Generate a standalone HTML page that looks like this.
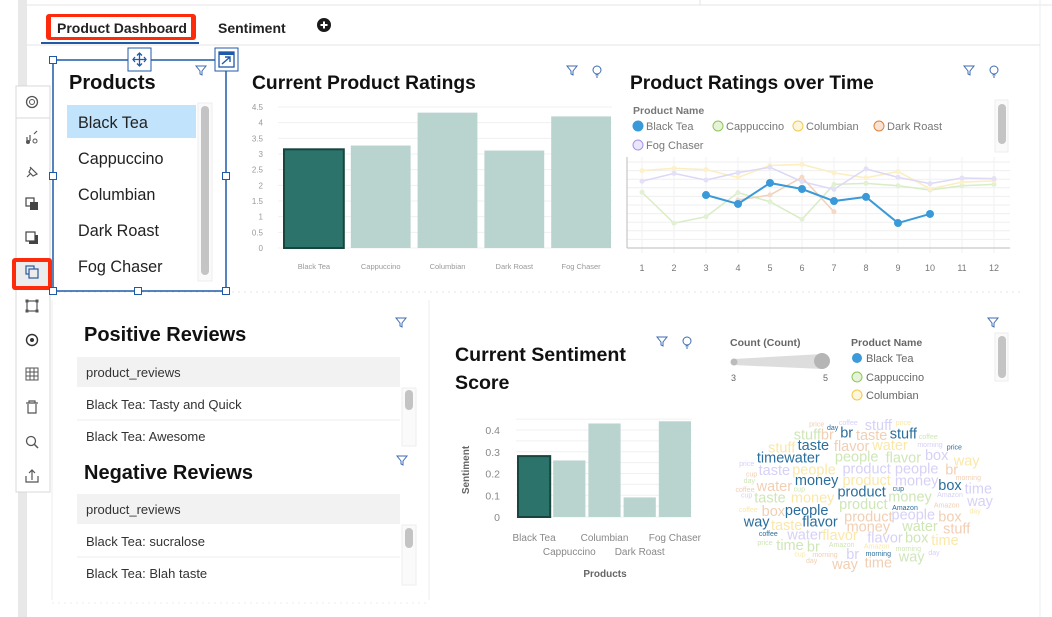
<!DOCTYPE html>
<html><head><meta charset="utf-8">
<style>
body{margin:0;width:1052px;height:617px;overflow:hidden;background:#fff;font-family:"Liberation Sans",sans-serif;}
svg{display:block}
text{font-family:"Liberation Sans",sans-serif}
</style></head>
<body>
<svg id="root" width="1052" height="617" viewBox="0 0 1052 617" xmlns="http://www.w3.org/2000/svg">
<rect x="0" y="0" width="1052" height="617" fill="#fff"/>
<rect x="18" y="0" width="9" height="617" fill="#e8e8e8"/>
<line x1="27" y1="5" x2="1052" y2="5" stroke="#e4e4e4"/>
<line x1="700" y1="0" x2="700" y2="5" stroke="#e4e4e4"/>
<line x1="1040" y1="0" x2="1040" y2="617" stroke="#ececec"/>
<line x1="27" y1="45" x2="1040" y2="45" stroke="#e4e4e4"/>
<line x1="52" y1="292" x2="1020" y2="292" stroke="#e6e6e6" stroke-dasharray="2 4"/>
<line x1="52" y1="300" x2="52" y2="600" stroke="#eeeeee"/>
<line x1="429" y1="300" x2="429" y2="600" stroke="#eeeeee"/>
<line x1="52" y1="603" x2="429" y2="603" stroke="#eeeeee" stroke-dasharray="2 4"/>

<g>
<rect x="46" y="14" width="150" height="26" rx="3" fill="#fe2a0c"/>
<rect x="51" y="17" width="140" height="20" fill="#fff"/>
<text x="57" y="33" font-size="14" font-weight="bold" fill="#222">Product Dashboard</text>
</g>
<rect x="41" y="42" width="158" height="2" fill="#1f5aa8"/>
<text x="218" y="33" font-size="14" font-weight="bold" fill="#222">Sentiment</text>
<g>
<circle cx="324" cy="25" r="7" fill="#1a1a1a"/>
<path d="M320.5 25h7M324 21.5v7" stroke="#fff" stroke-width="2"/>
</g>

<g>
<rect x="16" y="86" width="34" height="406" fill="#fff" stroke="#d8d8d8"/>
<rect x="16" y="86" width="34" height="32" fill="#fff" stroke="#d8d8d8"/>
<g><circle cx="32" cy="102" r="5.5" fill="none" stroke="#555" stroke-width="1.3"/><circle cx="32" cy="102" r="2.5" fill="none" stroke="#555"/></g>
<g><path d="M27 141v-4M30 141v-6M34 134l3-3" stroke="#555" stroke-width="1.2"/><circle cx="28" cy="142" r="2" fill="#555"/><circle cx="35" cy="141" r="2" fill="none" stroke="#555"/></g>
<g><path d="M27 177l4-4M30 167l6 6M31 168l-2 4 4 4 4-2z" stroke="#555" fill="none" stroke-width="1.2"/></g>
<g><rect x="26" y="198" width="8" height="8" fill="none" stroke="#444" stroke-width="1.2"/><rect x="30" y="202" width="8" height="8" fill="#444"/></g>
<g><rect x="29" y="235" width="9" height="9" fill="#444"/><rect x="26" y="232" width="9" height="9" fill="#fff" stroke="#444" stroke-width="1.2"/></g>
<g><rect x="12" y="258" width="40" height="32" rx="3" fill="#fe2a0c"/><rect x="16" y="262" width="32" height="24" fill="#ececec"/><rect x="26" y="266" width="8" height="8" fill="none" stroke="#2c5aa0" stroke-width="1.2"/><rect x="29" y="269" width="9" height="9" fill="#ececec" stroke="#2c5aa0" stroke-width="1.2"/></g>
<g><rect x="27" y="301" width="10" height="10" fill="none" stroke="#555" stroke-width="1.2"/><rect x="25.5" y="299.5" width="3" height="3" fill="#555"/><rect x="35.5" y="309.5" width="3" height="3" fill="#555"/><rect x="35.5" y="299.5" width="3" height="3" fill="#555"/><rect x="25.5" y="309.5" width="3" height="3" fill="#555"/></g>
<g><circle cx="32" cy="340" r="5.5" fill="none" stroke="#333" stroke-width="1.4"/><circle cx="32" cy="340" r="2" fill="#333"/></g>
<g><rect x="26" y="368" width="12" height="12" fill="none" stroke="#555"/><path d="M26 372h12M26 376h12M30 368v12M34 368v12" stroke="#555"/></g>
<g><path d="M26 403h12M29 403v-2h6v2M28 404v9h8v-9" stroke="#555" fill="none" stroke-width="1.2"/></g>
<g><circle cx="31" cy="441" r="4.5" fill="none" stroke="#555" stroke-width="1.3"/><path d="M34 444l4 4" stroke="#555" stroke-width="1.5"/></g>
<g><path d="M32 480v-10M29 473l3-3 3 3M26 476v6h12v-6" stroke="#555" fill="none" stroke-width="1.2"/></g>
</g>

<g>
<rect x="53" y="60" width="173" height="231" fill="none" stroke="#1f5aa8" stroke-width="1.5"/>
<g fill="#fff" stroke="#1f5aa8">
<rect x="49.5" y="56.5" width="7" height="7"/><rect x="134.5" y="287.5" width="7" height="7"/><rect x="222.5" y="287.5" width="7" height="7"/><rect x="49.5" y="287.5" width="7" height="7"/><rect x="49.5" y="172.5" width="7" height="7"/><rect x="222.5" y="172.5" width="7" height="7"/>
<rect x="128" y="48" width="23" height="23"/><rect x="215" y="48" width="23" height="23"/>
</g>
<path d="M139.5 53v13M133 59.5h13M137 55.5l2.5-2.5 2.5 2.5M137 63.5l2.5 2.5 2.5-2.5M135 57l-2 2.5 2 2.5M144 57l2 2.5-2 2.5" stroke="#1f5aa8" fill="none" stroke-width="1.3"/>
<g><rect x="219" y="52" width="15" height="15" fill="none" stroke="#1f5aa8" stroke-width="1.3"/><rect x="219" y="52" width="15" height="3" fill="#1f5aa8"/><path d="M222 64l8-7M225 57h5v5" stroke="#1f5aa8" fill="none" stroke-width="1.4"/></g>
<path d="M196 66h10l-4 5v4l-2-1v-3z" fill="none" stroke="#3d6bb3"/>
<text x="69" y="89" font-size="20" font-weight="bold" fill="#111">Products</text>
<rect x="67" y="105" width="129" height="33" fill="#c1e3fb"/>
<g font-size="16.2" fill="#222">
<text x="78" y="128">Black Tea</text>
<text x="78" y="164">Cappuccino</text>
<text x="78" y="200">Columbian</text>
<text x="78" y="236">Dark Roast</text>
<text x="78" y="272">Fog Chaser</text>
</g>
<rect x="198" y="103" width="14" height="178" fill="#fafafa" stroke="#eee"/>
<rect x="201" y="106" width="8" height="169" rx="4" fill="#c4c4c4"/>
</g>

<text x="252" y="89" font-size="19.3" font-weight="bold" fill="#111">Current Product Ratings</text>
<path d="M567 66h10l-4 5v4l-2-1v-3z" fill="none" stroke="#3d6bb3"/>
<g><circle cx="597" cy="70" r="4" fill="none" stroke="#3d6bb3"/><path d="M595.5 75h3M596 77h2" stroke="#3d6bb3"/></g>
<g id="c1"></g>

<text x="630" y="89" font-size="19.2" font-weight="bold" fill="#111">Product Ratings over Time</text>
<path d="M964 66h10l-4 5v4l-2-1v-3z" fill="none" stroke="#3d6bb3"/>
<g><circle cx="994" cy="70" r="4" fill="none" stroke="#3d6bb3"/><path d="M992.5 75h3M993 77h2" stroke="#3d6bb3"/></g>
<text x="633" y="114" font-size="10.5" font-weight="bold" fill="#777">Product Name</text>
<rect x="995" y="100" width="13" height="52" fill="#fafafa" stroke="#eee"/>
<rect x="998" y="104" width="8" height="40" rx="4" fill="#c4c4c4"/>
<g id="c2"></g>

<text x="84" y="341" font-size="20" font-weight="bold" fill="#111">Positive Reviews</text>
<path d="M396 318h10l-4 5v4l-2-1v-3z" fill="none" stroke="#3d6bb3"/>
<g>
<rect x="77" y="357" width="323" height="30" fill="#f2f2f2"/>
<text x="86" y="377" font-size="13" fill="#333">product_reviews</text>
<text x="86" y="409" font-size="13" fill="#333">Black Tea: Tasty and Quick</text>
<line x1="77" y1="420" x2="400" y2="420" stroke="#eee"/>
<text x="86" y="441" font-size="13" fill="#333">Black Tea: Awesome</text>
<rect x="402" y="388" width="14" height="58" fill="#fafafa" stroke="#eee"/>
<rect x="405" y="390" width="8" height="20" rx="4" fill="#c4c4c4"/>
</g>
<text x="84" y="479" font-size="20" font-weight="bold" fill="#111">Negative Reviews</text>
<path d="M397 456h10l-4 5v4l-2-1v-3z" fill="none" stroke="#3d6bb3"/>
<g>
<rect x="77" y="494" width="323" height="30" fill="#f2f2f2"/>
<text x="86" y="514" font-size="13" fill="#333">product_reviews</text>
<text x="86" y="546" font-size="13" fill="#333">Black Tea: sucralose</text>
<line x1="77" y1="557" x2="400" y2="557" stroke="#eee"/>
<text x="86" y="578" font-size="13" fill="#333">Black Tea: Blah taste</text>
<rect x="402" y="525" width="14" height="60" fill="#fafafa" stroke="#eee"/>
<rect x="405" y="528" width="8" height="20" rx="4" fill="#c4c4c4"/>
</g>

<text x="455" y="361" font-size="19.6" font-weight="bold" fill="#111">Current Sentiment</text>
<text x="455" y="389" font-size="19.6" font-weight="bold" fill="#111">Score</text>
<path d="M657 337h10l-4 5v4l-2-1v-3z" fill="none" stroke="#3d6bb3"/>
<g><circle cx="687" cy="341" r="4" fill="none" stroke="#3d6bb3"/><path d="M685.5 346h3M686 348h2" stroke="#3d6bb3"/></g>
<g id="c3"></g>

<path d="M988 318h10l-4 5v4l-2-1v-3z" fill="none" stroke="#3d6bb3"/>
<text x="730" y="346" font-size="10.5" font-weight="bold" fill="#666">Count (Count)</text>
<g>
<path d="M733 359 L822 354 L822 369 L733 365 Z" fill="#ddd"/>
<circle cx="734" cy="362" r="3.5" fill="#bbb"/>
<circle cx="822" cy="361" r="8" fill="#b5b5b5"/>
<text x="731" y="381" font-size="9" fill="#666">3</text>
<text x="823" y="381" font-size="9" fill="#666">5</text>
</g>
<text x="851" y="346" font-size="10.5" font-weight="bold" fill="#666">Product Name</text>
<g font-size="11" fill="#666">
<g><circle cx="857" cy="358" r="5" fill="#3b9ad9"/><text x="866" y="362">Black Tea</text></g>
<g><circle cx="857" cy="377" r="5" fill="#e6f3d8" stroke="#8cc65a"/><text x="866" y="381">Cappuccino</text></g>
<g><circle cx="857" cy="395" r="5" fill="#fdf6dc" stroke="#f2c94c"/><text x="866" y="399">Columbian</text></g>
</g>
<rect x="995" y="333" width="13" height="48" fill="#fafafa" stroke="#eee"/>
<rect x="998" y="336" width="8" height="42" rx="4" fill="#c4c4c4"/>
<g id="wc"></g>
</svg>

<script>
const NS="http://www.w3.org/2000/svg";
function mk(parent,tag,attrs,txt){const e=document.createElementNS(NS,tag);for(const k in attrs)e.setAttribute(k,attrs[k]);if(txt!==undefined)e.textContent=txt;parent.appendChild(e);return e;}

const c1Categories=["Black Tea","Cappuccino","Columbian","Dark Roast","Fog Chaser"];
const c1Values=[3.15,3.27,4.32,3.11,4.2];
const c1Ticks=[0,0.5,1,1.5,2,2.5,3,3.5,4,4.5];

const c2Months=[1,2,3,4,5,6,7,8,9,10,11,12];
const c2Series=["Black Tea","Cappuccino","Columbian","Dark Roast","Fog Chaser"];
const c2BlackTea=[null,null,3.08,2.56,3.78,3.43,2.73,2.97,1.45,1.98,null,null];
const c2Cappuccino=[3.24,1.44,1.82,3.22,2.69,1.67,3.7,3.76,3.62,3.37,3.62,3.7];
const c2Columbian=[4.5,4.64,4.56,4.1,4.8,4.86,4.37,4.08,4.45,3.44,3.83,3.9];
const c2DarkRoast=[null,null,null,2.79,3.08,4.11,2.11,null,null,null,null,null];
const c2FogChaser=[3.88,4.34,3.95,4.38,4.69,3.86,3.41,4.6,4.11,3.74,4.07,4.03];

const c3Categories=["Black Tea","Cappuccino","Columbian","Dark Roast","Fog Chaser"];
const c3Values=[0.28,0.26,0.43,0.09,0.44];
const c3Ticks=[0,0.1,0.2,0.3,0.4];

(function(){
  const g=document.getElementById('c1');
  const x0=278,x1=612,y0=248,yTop=107,max=4.5;
  const y=v=>y0-(v/max)*(y0-yTop);
  const band=(x1-x0)/c1Categories.length;
  const bx=i=>x0+i*band;
  c1Ticks.forEach(t=>{
    mk(g,'line',{x1:x0,x2:x1,y1:y(t),y2:y(t),stroke:'#f0f0f0'});
    const tl=mk(g,'text',{x:263,y:y(t)+3,'font-size':8,fill:'#999','text-anchor':'end'},String(t));
    
    
  });
  c1Categories.forEach((c,i)=>{
    const sel=i===0;
    const r=mk(g,'rect',{x:bx(i)+6,y:y(c1Values[i]),width:band-7,height:y0-y(c1Values[i]),fill:sel?'#2b736b':'#b9d3cf',stroke:sel?'#17463f':'none','stroke-width':sel?2:0});
    
    
    const t=mk(g,'text',{x:bx(i)+6+(band-7)/2,y:269,'font-size':7.5,fill:'#999','text-anchor':'middle'},c);
    
    
  });
})();

(function(){
  const g=document.getElementById('c2');
  const xL=627,xR=1010,y0=248,pxPer=17.2;
  const x=m=>642+(m-1)*32;
  const y=v=>y0-v*pxPer;
  for(let k=1;k<=10;k++){mk(g,'line',{x1:xL,x2:xR,y1:y0-k*8.6,y2:y0-k*8.6,stroke:'#efefef'});}
  c2Months.forEach(m=>{
    mk(g,'line',{x1:x(m),x2:x(m),y1:157,y2:y0+5,stroke:'#f2f2f2'});
    const t=mk(g,'text',{x:x(m),y:271,'font-size':9,fill:'#777','text-anchor':'middle'},String(m));
    
    
  });
  mk(g,'line',{x1:xL,x2:xL,y1:157,y2:y0,stroke:'#bbb'});
  mk(g,'line',{x1:xL,x2:xR,y1:y0,y2:y0,stroke:'#bbb'});
  const data=[c2BlackTea,c2Cappuccino,c2Columbian,c2DarkRoast,c2FogChaser];
  const stroke=['#3a9ad9','#d8ecc6','#fbeec0','#f0d0b8','#ddd8f6'];
  const fill=['#3a9ad9','#e2f0d4','#fcf1ca','#f3d9c6','#e4e0f8'];
  const order=[1,2,3,4,0];
  order.forEach(si=>{
    const vals=data[si];let d='';
    vals.forEach((v,i)=>{if(v===null)return;d+=(d&&vals[i-1]!==null?'L':'M')+x(c2Months[i])+' '+y(v);});
    const p=mk(g,'path',{d:d,fill:'none',stroke:stroke[si],'stroke-width':si===0?2:1.5});
    
    
    vals.forEach((v,i)=>{if(v===null)return;
      const c=mk(g,'circle',{cx:x(c2Months[i]),cy:y(v),r:si===0?4:2.5,fill:fill[si]});
      
      
    });
  });
  const lx=[638,718,798,879,638],ly=[126,126,126,126,145];
  const lfill=['#3a9ad9','#e6f3d8','#fdf6dc','#f9e3d4','#ebe7fb'];
  const lstroke=['#3a9ad9','#8cc65a','#f2c94c','#d9823b','#a493e8'];
  c2Series.forEach((s,i)=>{
    const c=mk(g,'circle',{cx:lx[i],cy:ly[i],r:5,fill:lfill[i],stroke:lstroke[i]});
    
    
    const t=mk(g,'text',{x:lx[i]+8,y:ly[i]+4,'font-size':11,fill:'#777'},s);
    
    
  });
})();

(function(){
  const g=document.getElementById('c3');
  const x0=516,x1=692,y0=517,per=217.5;
  const y=v=>y0-v*per;
  const band=(x1-x0)/c3Categories.length;
  for(let k=0;k<=9;k++){const v=k*0.05;mk(g,'line',{x1:x0,x2:x1,y1:y(v),y2:y(v),stroke:'#f0f0f0'});}
  c3Ticks.forEach(t=>{
    const tl=mk(g,'text',{x:500,y:y(t)+4,'font-size':10.5,fill:'#888','text-anchor':'end'},String(t));
    
    
  });
  c3Categories.forEach((c,i)=>{
    const sel=i===0;
    const bxl=x0+i*band+2;
    const r=mk(g,'rect',{x:bxl,y:y(c3Values[i]),width:band-3,height:y0-y(c3Values[i]),fill:sel?'#2b736b':'#b9d3cf',stroke:sel?'#17463f':'none','stroke-width':sel?2:0});
    
    
    const t=mk(g,'text',{x:bxl+(band-3)/2,y:i%2===0?541:555,'font-size':10,fill:'#888','text-anchor':'middle'},c);
    
    
  });
  const xt=mk(g,'text',{x:605,y:577,'font-size':10,'font-weight':'bold',fill:'#666','text-anchor':'middle'},'Products');
  
  
  const yt=mk(g,'text',{x:0,y:0,'font-size':10,'font-weight':'bold',fill:'#666','text-anchor':'middle',transform:'translate(469,470) rotate(-90)'},'Sentiment');
  
  
})();

const wcWords=[
["price",290,72,6,"p"],["day",338,82,6,"d"],["coffee",385,68,6,"u"],["stuff",475,75,13,"u"],["price",550,68,7,"y"],
["stuff",262,103,13,"g"],["br",322,103,13,"p"],["br",380,98,13,"d"],["taste",455,105,13,"p"],["stuff",550,100,13,"d"],["coffee",625,110,6,"g"],
["stuff",185,143,13,"y"],["taste",280,135,13,"d"],["flavor",395,138,13,"p"],["water",510,135,13,"y"],["morning",630,133,6,"u"],["price",703,141,6,"d"],
["timewater",205,172,13,"d"],["people",410,170,13,"g"],["flavor",550,172,13,"g"],["box",650,165,13,"u"],["way",740,182,13,"y"],
["price",80,190,6,"u"],["taste",163,210,13,"u"],["people",282,208,13,"y"],["product",440,205,13,"u"],["people",590,205,13,"u"],["br",695,208,13,"p"],
["cup",95,222,5,"p"],["morning",745,232,6,"p"],["money",290,240,13,"d"],["product",440,240,13,"y"],["money",590,242,13,"u"],["box",690,255,13,"d"],["time",775,265,13,"u"],
["day",88,242,5,"g"],["water",163,258,13,"p"],["coffee",75,268,5,"p"],["cup",238,267,5,"g"],["product",425,275,13,"d"],["cup",535,265,5,"d"],["Amazon",690,283,6,"u"],
["cup",80,285,5,"u"],["taste",150,293,13,"g"],["money",278,292,13,"y"],["money",570,290,13,"g"],["way",780,303,13,"u"],
["coffee",85,328,5,"y"],["box",160,333,13,"p"],["people",260,330,13,"d"],["product",430,312,13,"g"],["Amazon",555,322,6,"d"],["Amazon",680,315,6,"p"],["day",765,333,5,"y"],
["way",110,365,13,"d"],["taste",200,375,13,"y"],["flavor",300,365,13,"d"],["product",445,350,13,"p"],["people",580,343,13,"u"],["box",690,350,13,"p"],
["coffee",145,400,5,"d"],["water",255,403,13,"u"],["money",445,380,13,"p"],["flavor",360,405,13,"y"],["water",600,378,13,"g"],["stuff",710,385,13,"p"],
["price",135,428,5,"g"],["time",210,435,13,"g"],["br",280,440,13,"g"],["Amazon",365,433,6,"g"],["flavor",495,412,13,"u"],["box",590,413,13,"g"],["time",675,420,13,"y"],
["cup",240,462,5,"y"],["morning",315,463,6,"p"],["br",398,462,13,"u"],["morning",475,460,6,"d"],["Amazon",470,438,6,"y"],["morning",565,445,6,"g"],["day",642,457,5,"u"],["way",575,470,13,"g"],
["day",275,482,5,"p"],["way",375,492,13,"p"],["time",475,488,13,"p"]
];
(function(){
  const g=document.getElementById('wc');
  const col={d:'#2a6e9c',u:'#d6d1f6',p:'#f1cfb4',g:'#cfe6b7',y:'#fbe8a8'};
  wcWords.forEach(w=>{
    const big=w[3]>=10;
    const fs=big?14.5:7;
    const t=mk(g,'text',{x:720+w[1]/3,y:400+w[2]/3+(big?5:2.5),'font-size':fs,fill:col[w[4]],'text-anchor':'middle'},w[0]);
    
    
  });
})();
</script>
</body></html>
